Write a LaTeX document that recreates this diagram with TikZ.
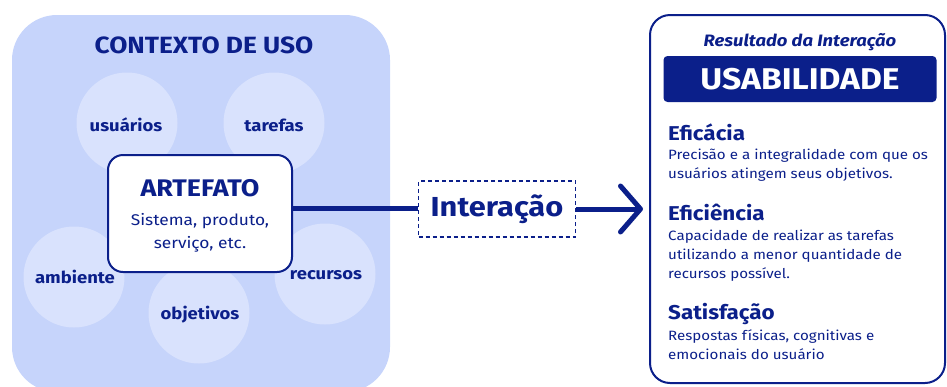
\documentclass[tikz,border=0pt]{standalone}
\usepackage{fontspec}
\setmainfont{Fira Sans}[FakeStretch=1.12]
\usepackage{xcolor}
\usepackage{tikz}
\usetikzlibrary{arrows.meta}

\definecolor{navy}{HTML}{0B1F8A}
\definecolor{ctxbg}{HTML}{C6D4FB}
\definecolor{ctxdisc}{HTML}{D9E2FD}

\begin{document}
\begin{tikzpicture}[x=1pt,y=-1pt,
	disc/.style={circle,fill=ctxdisc,minimum size=101pt,inner sep=0pt},
	disclabel/.style={font=\fontsize{16.5}{20}\selectfont\bfseries,text=navy},
	head/.style={font=\fontsize{20}{24}\selectfont\bfseries,text=navy,anchor=base west,inner sep=0pt},
	body/.style={font=\fontsize{13.5}{19}\selectfont,text=navy,anchor=north west,align=left,inner sep=0pt}]
	\useasboundingbox (0,0) rectangle (947,386);
	% contexto de uso
	\fill[ctxbg,rounded corners=45pt] (12,15) rectangle (390,392);
	\node[font=\fontsize{23.5}{28}\selectfont\bfseries,text=navy] (ctx) at (204,45) {CONTEXTO DE USO};
	\node[disc] (d1) at (127,123) {};
	\node[disc] (d2) at (274,123) {};
	\node[disc] (d3) at (74,277) {};
	\node[disc] (d4) at (199,313) {};
	\node[disc] (d5) at (325,274) {};
	\node[disclabel] at (126,125) {usuários};
	\node[disclabel] at (274,125) {tarefas};
	\node[disclabel] at (75,277) {ambiente};
	\node[disclabel] at (326,275) {recursos};
	\node[disclabel] at (200,315) {objetivos};
	% artefato
	\node[draw=navy,line width=2pt,fill=white,rounded corners=15pt,minimum width=184pt,minimum height=117pt] (art) at (200,213.5) {};
	\node[font=\fontsize{24}{28}\selectfont\bfseries,text=navy] at (200,188) {ARTEFATO};
	\node[font=\fontsize{15.5}{23}\selectfont,text=navy,align=center] at (200,233) {Sistema, produto,\\serviço, etc.};
	% interacao
	\node[draw=navy,line width=1.2pt,dash pattern=on 4pt off 3pt,minimum width=157pt,minimum height=56pt,font=\fontsize{27.5}{32}\selectfont\bfseries,text=navy] (inter) at (497,209) {Interação};
	% resultado
	\node[draw=navy,line width=2pt,fill=white,rounded corners=20pt,minimum width=295pt,minimum height=368pt] (res) at (797.5,199) {};
	\node[font=\fontsize{16.5}{19}\selectfont\bfseries\itshape,text=navy] at (800,42) {Resultado da Interação};
	\node[fill=navy,rounded corners=4pt,minimum width=273pt,minimum height=46pt,font=\fontsize{30}{36}\selectfont\bfseries,text=white] (usab) at (800,79) {USABILIDADE};
	\node[head] (h1) at (668,140) {Eficácia};
	\node[body] (b1) at (668,149) {Precisão e a integralidade com que os\\usuários atingem seus objetivos.};
	\node[head] (h2) at (668,220) {Eficiência};
	\node[body] (b2) at (668,230) {Capacidade de realizar as tarefas\\utilizando a menor quantidade de\\recursos possível.};
	\node[head] (h3) at (668,319) {Satisfação};
	\node[body] (b3) at (668,329) {Respostas físicas, cognitivas e\\emocionais do usuário};
	% conectores
	\draw[navy,line width=5pt] (art.east |- 0,208) -- (inter.west |- 0,208);
	\draw[navy,line width=5pt,-{Straight Barb[length=20pt,width=46pt,line cap=round,line join=round]},shorten >=6pt] (inter.east) -- (res.west |- inter.east);
\end{tikzpicture}
\end{document}
